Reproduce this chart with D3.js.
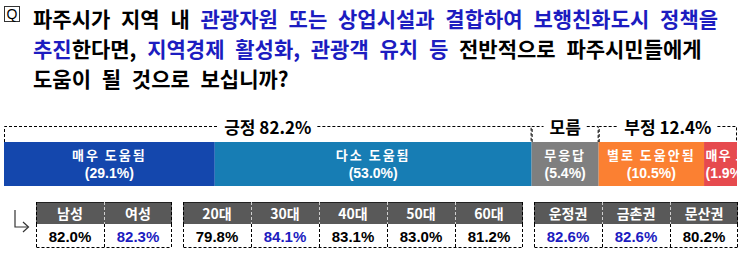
<!DOCTYPE html>
<html>
<head>
<meta charset="utf-8">
<script src="https://cdn.jsdelivr.net/npm/d3@7"></script>
<style>
  body { margin: 0; background: #fff; }
  text { font-family: "Noto Sans CJK KR", "Noto Sans", sans-serif; }
</style>
</head>
<body>
<div id="chart-area"></div>
<script>
// question text, split into [text, highlighted] runs per line
var titleLines = [
    [["파주시가 지역 내 ", false], ["관광자원 또는 상업시설과 결합하여 보행친화도시 정책을", true]],
    [["추진", true], ["한다면, ", false], ["지역경제 활성화, 관광객 유치 등", true], [" 전반적으로 파주시민들에게", false]],
    [["도움이 될 것으로 보십니까?", false]]
];

var segLabels = ["매우 도움됨", "다소 도움됨", "무응답", "별로 도움안됨", "매우 도움안됨"];
var segValues = [29.1, 53.0, 5.4, 10.5, 1.9];

var bracketLabels = ["긍정 82.2%", "모름", "부정 12.4%"];
var bracketSpans = [[0, 2], [2, 3], [3, 5]];

var tableHeads = [["남성", "여성"], ["20대", "30대", "40대", "50대", "60대"], ["운정권", "금촌권", "문산권"]];
var tableValues = [[82.0, 82.3], [79.8, 84.1, 83.1, 83.0, 81.2], [82.6, 82.6, 80.2]];

var width = 741;
var height = 253;
var blue = "#1c1cc0";
var segColors = ["#1447ad", "#177db4", "#7f7f7f", "#fb8032", "#e64a4e"];

var svg = d3.select("#chart-area").append("svg")
    .attr("width", width)
    .attr("height", height);

// ---- title
svg.append("rect")
    .attr("x", 4.5).attr("y", 6.5).attr("width", 15).attr("height", 15)
    .attr("fill", "none").attr("stroke", "#333");
svg.append("text")
    .attr("x", 12).attr("y", 19)
    .attr("text-anchor", "middle")
    .style("font-family", "Liberation Sans, sans-serif")
    .style("font-size", "14px")
    .text("Q");

titleLines.forEach((line, i) => {
    var t = svg.append("text")
        .attr("x", 33)
        .attr("y", 27 + i * 30)
        .style("font-size", "21px")
        .style("font-weight", "bold")
        .style("word-spacing", "6px");
    line.forEach((run) => {
        t.append("tspan")
            .attr("fill", run[1] ? blue : "#000")
            .text(run[0]);
    });
});

// ---- stacked bar
var barTop = 142, barBottom = 186, bracketY = 126.5;

// widths follow a compressed (power) scale of the shares
var w = d3.scalePow().exponent(0.68).domain([0, 1]).range([0, 1]);
var cum = [0];
segValues.forEach((v) => cum.push(cum[cum.length - 1] + w(v)));
var x = d3.scaleLinear().domain([0, cum[cum.length - 1]]).range([4, 737]);

var defs = svg.append("defs");

var seg = svg.selectAll(".seg").data(segValues).enter().append("g").attr("class", "seg");

seg.append("rect")
    .attr("x", (d, i) => x(cum[i]))
    .attr("y", barTop)
    .attr("width", (d, i) => x(cum[i + 1]) - x(cum[i]))
    .attr("height", barBottom - barTop)
    .attr("fill", (d, i) => segColors[i]);

segValues.forEach((v, i) => {
    defs.append("clipPath").attr("id", "clip" + i)
        .append("rect")
        .attr("x", x(cum[i])).attr("y", barTop)
        .attr("width", x(cum[i + 1]) - x(cum[i])).attr("height", barBottom - barTop);
});

seg.each(function(d, i) {
    var x0 = x(cum[i]), x1 = x(cum[i + 1]);
    var narrow = (x1 - x0) < 60;
    var tx = narrow ? x0 + 1.5 : (x0 + x1) / 2;
    var g = d3.select(this).append("g").attr("clip-path", "url(#clip" + i + ")");
    g.append("text")
        .attr("x", tx).attr("y", 160)
        .attr("text-anchor", narrow ? "start" : "middle")
        .attr("fill", "#fff")
        .style("font-size", "13px")
        .style("font-weight", "bold")
        .style("letter-spacing", narrow ? "1px" : "2px")
        .text(segLabels[i]);
    g.append("text")
        .attr("x", tx).attr("y", 178)
        .attr("text-anchor", narrow ? "start" : "middle")
        .attr("fill", "#fff")
        .style("font-family", "Liberation Sans Narrow, Liberation Sans, sans-serif")
        .style("font-size", "14px")
        .style("font-weight", "bold")
        .text("(" + d.toFixed(1) + "%)");
});

// ---- brackets
bracketSpans.forEach((s, i) => {
    var x0 = x(cum[s[0]]) + 0.5, x1 = x(cum[s[1]]) - 0.5;
    var cx = (x0 + x1) / 2;
    var lbl = svg.append("text")
        .attr("x", cx).attr("y", 133.5)
        .attr("text-anchor", "middle")
        .style("font-size", "17px")
        .style("font-weight", "bold")
        .text(bracketLabels[i]);
    var half = lbl.node().getComputedTextLength() / 2 + 6;
    var path = "M" + x0 + "," + barTop + "V" + bracketY + "H" + (cx - half) +
        "M" + (cx + half) + "," + bracketY + "H" + x1 + "V" + barTop;
    svg.append("path")
        .attr("d", path)
        .attr("fill", "none")
        .attr("stroke", "#000")
        .attr("stroke-dasharray", "3,2");
});

// ---- table
var cellW = 68, gap = 11, headTop = 202, headH = 22, valH = 24;
var arrow = svg.append("g").attr("stroke", "#333").attr("fill", "none").attr("stroke-width", 1.2);
arrow.append("path").attr("d", "M15,210V227H28");
arrow.append("path").attr("d", "M23,222L28.5,227L23,232");

var start = 36;
tableHeads.forEach((heads, gi) => {
    var xb = d3.scaleBand().domain(heads).range([start, start + heads.length * cellW]);
    var vals = tableValues[gi];
    var maxV = d3.max(vals);
    var g = svg.append("g");

    g.selectAll(".head").data(heads).enter().append("rect")
        .attr("x", (d) => xb(d)).attr("y", headTop)
        .attr("width", xb.bandwidth()).attr("height", headH)
        .attr("fill", "#595959");

    g.selectAll(".htxt").data(heads).enter().append("text")
        .attr("x", (d) => xb(d) + xb.bandwidth() / 2).attr("y", headTop + 16.5)
        .attr("text-anchor", "middle")
        .attr("fill", "#fff")
        .style("font-size", "14px")
        .style("font-weight", "bold")
        .text((d) => d);

    g.selectAll(".vtxt").data(vals).enter().append("text")
        .attr("x", (d, i) => xb(heads[i]) + xb.bandwidth() / 2).attr("y", headTop + headH + 17.5)
        .attr("text-anchor", "middle")
        .attr("fill", (d) => d === maxV ? blue : "#000")
        .style("font-family", "Liberation Sans Narrow, Liberation Sans, sans-serif")
        .style("font-size", "15px")
        .style("font-weight", "bold")
        .text((d) => d.toFixed(1) + "%");

    var x0 = start + 0.5, x1 = start + heads.length * cellW - 0.5;
    var yb = headTop + headH + valH - 0.5;
    // top border
    g.append("line")
        .attr("x1", x0).attr("x2", x1).attr("y1", headTop + 0.5).attr("y2", headTop + 0.5)
        .attr("stroke", "#222");
    // dashed verticals and bottom
    d3.range(heads.length + 1).forEach((k) => {
        var xx = start + k * cellW + (k === heads.length ? -0.5 : 0.5);
        var inner = k > 0 && k < heads.length;
        g.append("line")
            .attr("x1", xx).attr("x2", xx).attr("y1", headTop).attr("y2", headTop + headH)
            .attr("stroke", inner ? "#cfcfcf" : "#000")
            .attr("stroke-dasharray", "3,2");
        g.append("line")
            .attr("x1", xx).attr("x2", xx).attr("y1", headTop + headH).attr("y2", yb)
            .attr("stroke", "#000")
            .attr("stroke-dasharray", "3,2");
    });
    g.append("line")
        .attr("x1", x0).attr("x2", x1).attr("y1", yb).attr("y2", yb)
        .attr("stroke", "#000")
        .attr("stroke-dasharray", "3,2");

    start += heads.length * cellW + gap;
});
</script>
</body>
</html>
